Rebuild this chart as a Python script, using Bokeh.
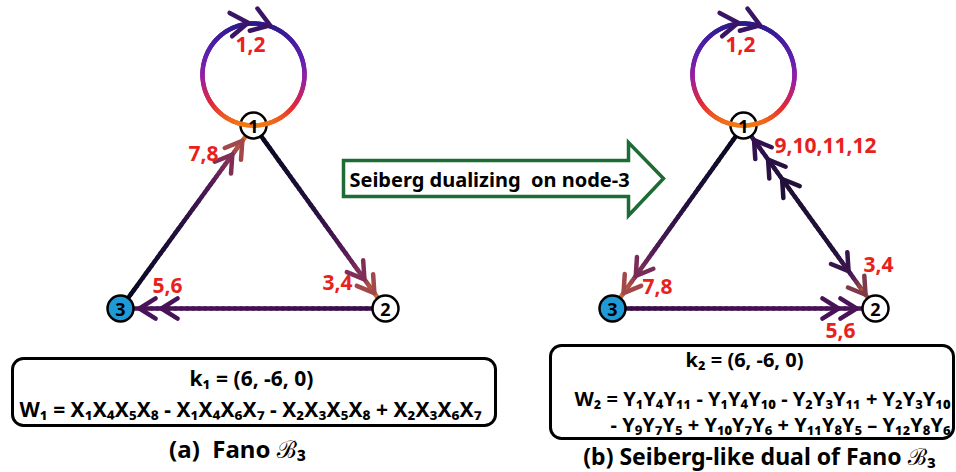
import numpy as np
from bokeh.plotting import figure
from bokeh.models import Range1d
from bokeh.core.properties import value
from bokeh.embed import file_html
from bokeh.resources import INLINE

# ---------------- data ----------------
node_names = ["1", "2", "3"]
left_node_x = [253, 385, 120]
left_node_y = [125, 308, 308]
right_node_x = [743, 875, 612]
right_node_y = [125, 308, 308]
node_fill = ["white", "white", "#1f9ad6"]

loop_labels = ["1,2", "1,2"]
loop_label_x = [250, 740]
loop_label_y = [44, 44]

edge_labels = ["7,8", "3,4", "5,6", "9,10,11,12", "3,4", "7,8", "5,6"]
edge_label_x = [203, 337, 167, 825, 878, 657, 840]
edge_label_y = [153, 282, 285, 145, 264, 286, 330]

arrow_text = "Seiberg dualizing\u00a0 on node-3"

k1_text = "k\u2081 = (6, -6, 0)"
w1_text = "W\u2081 = X\u2081X\u2084X\u2085X\u2088 - X\u2081X\u2084X\u2086X\u2087 - X\u2082X\u2083X\u2085X\u2088 + X\u2082X\u2083X\u2086X\u2087"
k2_text = "k\u2082 = (6, -6, 0)"
w2_line1 = "W\u2082 = Y\u2081Y\u2084Y\u2081\u2081 - Y\u2081Y\u2084Y\u2081\u2080 - Y\u2082Y\u2083Y\u2081\u2081 + Y\u2082Y\u2083Y\u2081\u2080"
w2_line2 = "- Y\u2089Y\u2087Y\u2085 + Y\u2081\u2080Y\u2087Y\u2086 + Y\u2081\u2081Y\u2088Y\u2085 \u2013 Y\u2081\u2082Y\u2088Y\u2086"
caption_a = "(a)\u00a0 Fano \u212C\u2083"
caption_b = "(b) Seiberg-like dual of Fano \u212C\u2083"

FONT = value("Noto Sans")
RED = "#e8211b"

p = figure(width=956, height=472, output_backend="svg", toolbar_location=None,
           x_range=Range1d(0, 956), y_range=Range1d(472, 0), min_border=0)
p.axis.visible = False
p.grid.visible = False
p.outline_line_color = None
p.background_fill_color = "white"
p.border_fill_color = "white"


def hex2rgb(h):
    h = h.lstrip("#")
    return np.array([int(h[i:i + 2], 16) for i in (0, 2, 4)], dtype=float)


def color_at(stops, t):
    ts = [s[0] for s in stops]
    cs = [hex2rgb(s[1]) for s in stops]
    t = min(max(t, 0.0), 1.0)
    for i in range(len(ts) - 1):
        if ts[i] <= t <= ts[i + 1]:
            f = (t - ts[i]) / (ts[i + 1] - ts[i]) if ts[i + 1] > ts[i] else 0
            c = cs[i] * (1 - f) + cs[i + 1] * f
            return "#%02x%02x%02x" % tuple(int(round(v)) for v in c)
    c = cs[-1]
    return "#%02x%02x%02x" % tuple(int(v) for v in c)


def chevron_lines(tip, d, L=19, ang=32):
    a = np.radians(ang)
    bx, by = -d[0], -d[1]
    w1 = (bx * np.cos(a) - by * np.sin(a), bx * np.sin(a) + by * np.cos(a))
    w2 = (bx * np.cos(-a) - by * np.sin(-a), bx * np.sin(-a) + by * np.cos(-a))
    xs = [tip[0] + L * w1[0], tip[0], tip[0] + L * w2[0]]
    ys = [tip[1] + L * w1[1], tip[1], tip[1] + L * w2[1]]
    return xs, ys


def edge(a, b, stops, heads_at_b=(), heads_at_a=(), r=13, width=4.5, n=40):
    a = np.array(a, float)
    b = np.array(b, float)
    d = (b - a) / np.linalg.norm(b - a)
    s = a + d * r
    e = b - d * r
    ts = np.linspace(0, 1, n + 1)
    pts = s[None, :] + (e - s)[None, :] * ts[:, None]
    cols = [color_at(stops, (ts[i] + ts[i + 1]) / 2) for i in range(n)]
    p.segment(pts[:-1, 0], pts[:-1, 1], pts[1:, 0], pts[1:, 1], line_color=cols,
              line_width=width, line_cap="round")
    total = np.linalg.norm(b - a)
    xs_all, ys_all, cl = [], [], []
    for dist in heads_at_b:
        tip = b - d * dist
        xs, ys = chevron_lines(tip, d)
        xs_all.append(xs); ys_all.append(ys)
        cl.append(color_at(stops, 1 - dist / total))
    for dist in heads_at_a:
        tip = a + d * dist
        xs, ys = chevron_lines(tip, -d)
        xs_all.append(xs); ys_all.append(ys)
        cl.append(color_at(stops, dist / total))
    if xs_all:
        p.multi_line(xs_all, ys_all, line_color=cl, line_width=width,
                     line_cap="round", line_join="round")


def loop(node, r=51, width=4.5):
    cx, cy = node[0], node[1] - r
    th = np.linspace(0, 2 * np.pi, 181)
    x = cx + r * np.cos(th)
    y = cy - r * np.sin(th)
    stops = [(0, "#2c1a8c"), (0.3, "#5a20b0"), (0.55, "#9a20a0"),
             (0.8, "#e2283a"), (1.0, "#f27a12")]
    cols = []
    for i in range(len(th) - 1):
        ym = (y[i] + y[i + 1]) / 2
        cols.append(color_at(stops, (ym - (cy - r)) / (2 * r)))
    p.segment(x[:-1], y[:-1], x[1:], y[1:], line_color=cols, line_width=width,
              line_cap="round")
    xs_all, ys_all = [], []
    for deg in (96, 71):
        t = np.radians(deg)
        tip = (cx + r * np.cos(t), cy - r * np.sin(t) - 1)
        d = (np.sin(t), np.cos(t))
        xs, ys = chevron_lines(tip, d, L=21, ang=34)
        xs_all.append(xs); ys_all.append(ys)
    p.multi_line(xs_all, ys_all, line_color="#3a1566", line_width=width,
                 line_cap="round", line_join="round")


to_head = [(0, "#080820"), (0.45, "#24103f"), (0.72, "#521a58"),
           (0.88, "#8e3656"), (1.0, "#d2702e")]
flat = [(0, "#3a0c48"), (1, "#4a1458")]
both = [(0, "#3a1258"), (0.3, "#201038"), (0.7, "#201038"), (0.88, "#4a1a5a"),
        (1.0, "#d2702e")]

L = list(zip(left_node_x, left_node_y))
R = list(zip(right_node_x, right_node_y))

# left quiver
edge(L[2], L[0], to_head, heads_at_b=(19, 36))
edge(L[0], L[1], to_head, heads_at_b=(19, 36))
edge(L[1], L[2], flat, heads_at_b=(19, 41))
# right quiver
edge(R[0], R[2], to_head, heads_at_b=(19, 40))
edge(R[0], R[1], both, heads_at_b=(17, 46), heads_at_a=(18, 42, 66))
edge(R[2], R[1], flat, heads_at_b=(19, 37))

# nodes
all_x = left_node_x + right_node_x
all_y = left_node_y + right_node_y
p.circle(all_x, all_y, radius=13, fill_color=node_fill * 2, line_color="black",
         line_width=2.5)

loop(L[0])
loop(R[0])

p.text(all_x, [v + 1 for v in all_y], text=node_names * 2, text_font=FONT,
       text_font_style="bold", text_font_size="18px", text_align="center",
       text_baseline="middle", text_color="black")

# labels
p.text(loop_label_x + edge_label_x, loop_label_y + edge_label_y,
       text=loop_labels + edge_labels, text_font=FONT, text_font_style="bold",
       text_font_size="21px", text_align="center", text_baseline="middle",
       text_color=RED)

# big arrow
ax = [343, 628, 628, 663, 628, 628, 343]
ay = [160, 160, 142, 178, 215, 196, 196]
p.patch(ax, ay, fill_color="white", line_color="#1d6b35", line_width=3.5,
        line_join="miter")
p.text([489], [179], text=[arrow_text], text_font=FONT, text_font_style="bold",
       text_font_size="20px", text_align="center", text_baseline="middle",
       text_color="black")

# boxes
p.quad(left=[12, 550], right=[495, 953], top=[358, 345], bottom=[425, 438],
       fill_color="white", line_color="black", line_width=3, border_radius=11)

p.text([251, 250], [377, 408], text=[k1_text, w1_text], text_font=FONT,
       text_font_style="bold", text_font_size="21px", text_align="center",
       text_baseline="middle", text_color="black")
p.text([744], [359], text=[k2_text], text_font=FONT, text_font_style="bold",
       text_font_size="20px", text_align="center", text_baseline="middle",
       text_color="black")
p.text([950, 950], [398, 424], text=[w2_line1, w2_line2], text_font=FONT,
       text_font_style="bold", text_font_size="20px", text_align="right",
       text_baseline="middle", text_color="black")

p.text([237], [448], text=[caption_a], text_font=FONT, text_font_style="bold",
       text_font_size="24px", text_align="center", text_baseline="middle",
       text_color="black")
p.text([759], [455], text=[caption_b], text_font=FONT, text_font_style="bold",
       text_font_size="23px", text_align="center", text_baseline="middle",
       text_color="black")

open("out.html", "w").write(file_html(p, INLINE))
